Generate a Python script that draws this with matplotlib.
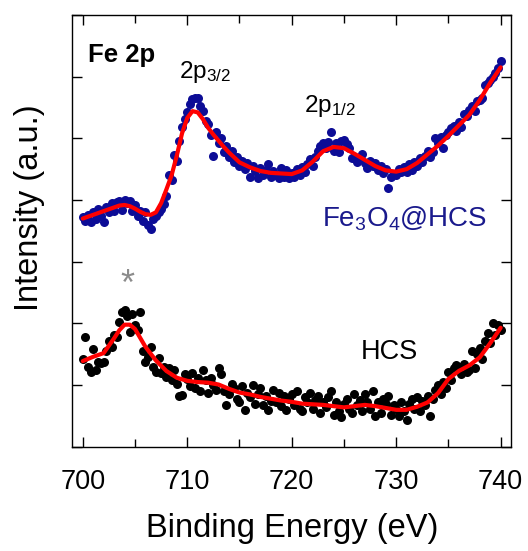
import numpy as np
import matplotlib
matplotlib.use("Agg")
import matplotlib.pyplot as plt
from matplotlib.ticker import MultipleLocator, NullFormatter

plt.rcParams['font.family'] = ['Liberation Sans', 'DejaVu Sans']
plt.rcParams['mathtext.fontset'] = 'custom'
plt.rcParams['mathtext.rm'] = 'Liberation Sans'
plt.rcParams['mathtext.default'] = 'regular'

# binding energy grid of the measured points (eV)
energy = np.arange(700, 740.01, 0.25)

# Fe3O4@HCS measured points (a.u., offset)
fe_pts = [
    3.72, 3.66, 3.75, 3.64, 3.80, 3.70, 3.85, 3.74,
    3.65, 3.88, 3.80, 3.95, 3.82, 3.97, 3.98, 3.84,
    4.00, 3.95, 3.99, 3.83, 3.92, 3.74, 3.82, 3.66,
    3.80, 3.60, 3.53, 3.70, 3.74, 3.81, 3.86, 3.94,
    4.07, 4.40, 4.32, 4.73, 4.64, 4.95, 5.18, 5.31,
    5.43, 5.55, 5.63, 5.66, 5.65, 5.52, 5.45, 5.28,
    5.23, 5.05, 4.72, 5.10, 4.92, 5.00, 4.78, 4.88,
    4.70, 4.79, 4.62, 4.70, 4.55, 4.64, 4.50, 4.60,
    4.38, 4.55, 4.47, 4.36, 4.52, 4.40, 4.49, 4.58,
    4.38, 4.47, 4.40, 4.36, 4.52, 4.38, 4.48, 4.35,
    4.44, 4.38, 4.50, 4.40, 4.53, 4.46, 4.58, 4.66,
    4.55, 4.70, 4.80, 4.88, 4.92, 4.85, 4.94, 5.10,
    4.80, 4.93, 4.78, 4.95, 4.98, 4.90, 4.85, 4.68,
    4.70, 4.62, 4.68, 4.74, 4.60, 4.52, 4.64, 4.55,
    4.60, 4.48, 4.55, 4.44, 4.50, 4.19, 4.38, 4.42,
    4.40, 4.50, 4.45, 4.53, 4.46, 4.58, 4.48, 4.62,
    4.55, 4.68, 4.62, 4.72, 4.80, 4.70, 4.77, 5.00,
    4.93, 5.02, 4.84, 5.05, 5.10, 5.16, 5.20, 5.12,
    5.26, 5.18, 5.40, 5.36, 5.46, 5.52, 5.45, 5.60,
    5.62, 5.66, 5.86, 5.90, 5.95, 6.00, 6.06, 6.14,
    6.25,
]

# HCS measured points
hcs_pts = [
    1.42, 1.78, 1.30, 1.22, 1.58, 1.24, 1.38, 1.36,
    1.37, 1.55, 1.72, 1.62, 1.82, 1.78, 2.02, 2.18,
    2.22, 2.12, 1.86, 2.15, 1.98, 1.90, 2.18, 1.55,
    1.38, 1.45, 1.62, 1.30, 1.22, 1.44, 1.20, 1.30,
    1.14, 1.28, 1.08, 1.25, 1.02, 0.82, 0.84, 1.18,
    1.10, 0.98, 1.20, 0.95, 1.12, 0.90, 1.24, 1.08,
    0.88, 1.12, 1.00, 0.92, 1.28, 1.18, 0.90, 0.68,
    0.85, 1.02, 0.95, 0.78, 0.72, 0.98, 0.60, 0.88,
    0.80, 1.00, 0.70, 0.85, 0.95, 0.68, 0.82, 0.60,
    0.75, 0.92, 0.72, 0.88, 0.66, 0.82, 0.60, 0.78,
    0.86, 0.68, 0.90, 0.62, 0.58, 0.80, 0.72, 0.88,
    0.62, 0.76, 0.82, 0.55, 0.72, 0.64, 0.80, 0.90,
    0.52, 0.72, 0.58, 0.48, 0.70, 0.78, 0.62, 0.55,
    0.85, 0.68, 0.76, 0.58, 0.85, 0.72, 0.62, 0.90,
    0.50, 0.72, 0.55, 0.78, 0.70, 0.82, 0.52, 0.68,
    0.62, 0.50, 0.72, 0.58, 0.44, 0.70, 0.78, 0.62,
    0.80, 0.58, 0.75, 0.68, 0.82, 0.50, 0.78, 0.92,
    1.00, 0.86, 1.05, 0.95, 1.22, 1.08, 1.28, 1.32,
    1.30, 1.18, 1.35, 1.22, 1.25, 1.55, 1.28, 1.50,
    1.60, 1.42, 1.72, 1.85, 1.68, 2.00, 1.82, 1.98,
    1.90,
]

# fitted envelopes
fe_fit_x = [700, 701, 702, 703, 703.5, 704, 704.5, 705, 705.5, 706, 706.5,
            707, 707.5, 708, 708.5, 709, 709.5, 710, 710.5, 711, 711.5, 712,
            712.5, 713, 713.5, 714, 715, 716, 717, 718, 719, 720, 721, 722,
            723, 724, 725, 726, 727, 728, 729, 730, 731, 732, 733, 734, 735,
            736, 737, 738, 739, 740]
fe_fit_y = [3.70, 3.76, 3.82, 3.88, 3.91, 3.92, 3.90, 3.86, 3.81, 3.77, 3.76,
            3.80, 3.95, 4.17, 4.40, 4.72, 5.08, 5.33, 5.44, 5.42, 5.31, 5.17,
            5.06, 4.96, 4.86, 4.77, 4.61, 4.53, 4.47, 4.44, 4.43, 4.42, 4.48,
            4.62, 4.79, 4.86, 4.84, 4.75, 4.65, 4.55, 4.48, 4.46, 4.50, 4.60,
            4.74, 4.88, 5.04, 5.21, 5.38, 5.62, 5.90, 6.15]

hcs_fit_x = [700, 701, 702, 703, 703.5, 704, 704.5, 705, 706, 707, 708, 709,
             710, 711, 712, 713, 714, 715, 716, 717, 718, 719, 720, 721, 722,
             723, 724, 725, 726, 727, 728, 729, 730, 731, 732, 733, 734, 735,
             736, 737, 738, 739, 740]
hcs_fit_y = [1.39, 1.46, 1.52, 1.76, 1.89, 1.98, 1.98, 1.91, 1.62, 1.40, 1.23,
             1.12, 1.07, 1.05, 1.04, 1.01, 0.94, 0.88, 0.85, 0.81, 0.78, 0.75,
             0.73, 0.70, 0.69, 0.68, 0.66, 0.64, 0.66, 0.68, 0.66, 0.63, 0.60,
             0.60, 0.65, 0.72, 0.87, 1.10, 1.23, 1.32, 1.45, 1.68, 1.93]

fig = plt.figure(figsize=(5.28, 5.51), dpi=100)
ax = fig.add_axes([0.137, 0.189, 0.831, 0.784])

ax.plot(energy, fe_pts, 'o', color='#0c0c96', ms=6.5, mec='none')
ax.plot(energy, hcs_pts, 'o', color='black', ms=6.5, mec='none')
ax.plot(fe_fit_x, fe_fit_y, color='red', lw=3, solid_capstyle='round')
ax.plot(hcs_fit_x, hcs_fit_y, color='red', lw=3, solid_capstyle='round')

ax.set_xlim(699, 741)
ax.set_ylim(0, 7)
ax.xaxis.set_major_locator(MultipleLocator(10))
ax.xaxis.set_minor_locator(MultipleLocator(5))
ax.yaxis.set_major_locator(MultipleLocator(1))
ax.yaxis.set_major_formatter(NullFormatter())
ax.tick_params(which='both', direction='in', top=True, right=True, width=1)
ax.tick_params(which='major', length=7)
ax.tick_params(which='minor', length=6)
ax.tick_params(axis='x', labelsize=19.5, pad=16)
for s in ax.spines.values():
    s.set_linewidth(1.0)

ax.set_xlabel('Binding Energy (eV)', fontsize=23.5, labelpad=13)
ax.set_ylabel('Intensity (a.u.)', fontsize=23.5)
ax.yaxis.set_label_coords(-0.062, 0.553)

ax.text(700.5, 6.24, 'Fe 2p', fontsize=18.5, fontweight='bold', va='baseline')
ax.text(709.2, 5.98, r'2p$_{3/2}$', fontsize=17.5, va='baseline')
ax.text(721.2, 5.43, r'2p$_{1/2}$', fontsize=17.5, va='baseline')
ax.text(722.9, 3.57, r'Fe$_3$O$_4$@HCS', fontsize=20, color='#1a1a8c', va='baseline')
ax.text(729.3, 1.42, 'HCS', fontsize=19.5, ha='center', va='baseline')
ax.text(704.3, 2.46, '*', fontsize=26, color='#8c8c8c', ha='center', va='baseline')

fig.savefig('out.png', dpi=100)
